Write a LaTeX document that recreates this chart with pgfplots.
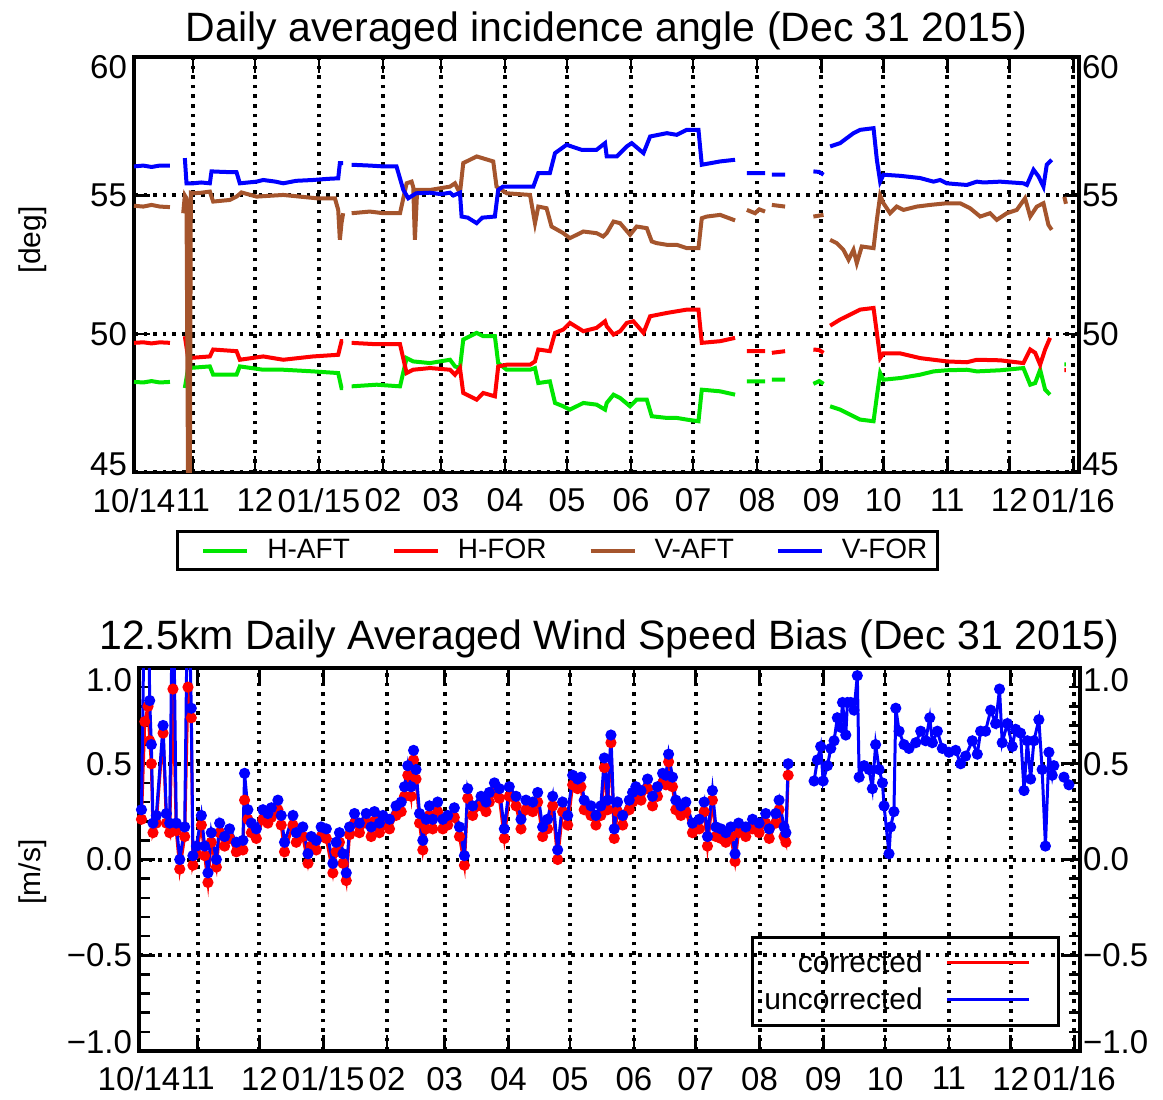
\documentclass[border=0pt]{standalone}
\usepackage{fontspec}
\setmainfont{Liberation Sans}
\usepackage{pgfplots}
\pgfplotsset{compat=1.18}
\definecolor{cgreen}{RGB}{0,230,0}
\definecolor{cred}{RGB}{255,0,0}
\definecolor{cbrown}{RGB}{165,85,45}
\definecolor{cblue}{RGB}{0,0,255}
\newcommand{\tl}[2]{\raisebox{#1}[0pt][0pt]{#2}}
\newcommand{\tickfont}{\fontsize{16.5}{16.5}\selectfont}
\pgfplotsset{
  common/.style={
    scale only axis,
    xmin=-28.5, xmax=428.7,
    axis line style={line width=1.6pt},
    every tick/.style={black, line width=1.3pt},
    major tick length=8pt, minor tick length=5.5pt,
    tick align=inside,
    xtick={-28.5,0,30,61,92,120,151,181,212,242,273,304,334,365,395,426},
    xticklabels={10/14,11,12,01/15,02,03,04,05,06,07,08,09,10,11,12,01/16},
    tick label style={font=\tickfont},
    x tick label style={yshift=-4.5pt},
    xmajorgrids, ymajorgrids,
    grid style={black, line width=2pt, dash pattern=on 1.8pt off 3pt},
    major grid style={black, line width=2pt, dash pattern=on 1.8pt off 3pt},
    unbounded coords=jump,
    title style={at={(0.5,1)}, anchor=base, font=\fontsize{20.5}{20.5}\selectfont},
    ylabel style={anchor=center, font=\fontsize{15}{15}\selectfont},
  },
  rightlab/.style={
    scale only axis, xmin=-28.5, xmax=428.7,
    axis line style={draw=none}, tick style={draw=none},
    xtick=\empty, yticklabel pos=right,
    tick label style={font=\tickfont}, yticklabel style={xshift=-2pt},
  },
}
\begin{document}
\begin{tikzpicture}
\path[use as bounding box] (0,0) rectangle (581.5pt,549.5pt);
% ---------------- top panel ----------------
\begin{axis}[common,
  at={(67pt,313.25pt)}, anchor=south west, width=472.5pt, height=207.75pt,
  ymin=45, ymax=60, ytick={45,50,55,60},
  yticklabels={\tl{-1.4pt}{45},50,55,\tl{-10.9pt}{60}},
  title={Daily averaged incidence angle (Dec 31 2015)},
  title style={yshift=1.5pt},
  ylabel={[deg]}, ylabel style={at={(axis description cs:-0.107,0.56)}},
  legend columns=4,
  legend style={at={(axis description cs:0.0444,-0.138)}, anchor=north west,
    draw=black, line width=1.5pt, fill=white, font=\fontsize{14}{14}\selectfont,
    inner xsep=2pt, inner ysep=2pt,
    nodes={inner xsep=3pt, inner ysep=2pt},
    /tikz/every odd column/.append style={column sep=6pt},
    /tikz/every even column/.append style={column sep=8pt}},
  legend image code/.code={\path (-10pt,0pt); \draw[#1, line width=2pt] (0pt,0pt) -- (22pt,0pt);},
]
\addplot[cgreen, line width=2pt] coordinates {
(-28.5,48.27) (-24,48.25) (-20,48.3) (-16,48.25) (-11.1,48.27) (-8,nan)
(-3.9,48.05) (-2.3,48.77) (8.2,48.83) (9.8,48.53) (21.1,48.53) (22.7,48.83) (34.0,48.71) (43.7,48.71) (58.2,48.65) (70.3,48.59) (71.9,48.05) (72.7,48.05) (74,nan)
(76.8,48.11) (88.9,48.17) (100.2,48.11) (103.4,49.13) (106.6,49.01) (114.7,48.95) (124.4,49.07) (126.8,48.83) (129.2,48.77) (130.8,49.80) (137.3,50.04) (140.5,49.92) (146.1,49.92) (147.7,48.95) (151.8,48.71) (163.1,48.71) (165.5,48.77) (167.1,48.23) (172.7,48.29) (175.2,47.51) (179.2,47.39) (182.4,47.27) (188.9,47.51) (195.3,47.45) (199.4,47.27) (200.2,47.51) (203.5,47.81) (206.7,47.69) (211.5,47.39) (214.7,47.63) (219.6,47.63) (222.0,47.03) (229.3,46.97) (234.1,46.97) (238.9,46.91) (244.6,46.85) (246.2,47.99) (255.1,47.93) (262.3,47.81) (265,nan)
(268.0,48.29) (276.8,48.29) (278,nan) (280.1,48.35) (286.5,48.35) (290,nan) (300.2,48.2) (303,48.3) (305.1,48.2) (306.5,nan)
(308.3,47.39) (313.1,47.27) (319.6,47.03) (322.8,46.91) (329.3,46.85) (330.9,47.75) (332.5,48.59) (334.1,48.35) (342.2,48.41) (351.8,48.53) (358.3,48.65) (364.7,48.69) (374.4,48.71) (379.3,48.65) (390.5,48.69) (401.8,48.77) (405.1,48.17) (407.5,48.23) (409.9,48.71) (412.3,47.99) (414.7,47.81) (418,nan)
(421.6,48.9) (422.4,48.9)
};
\addlegendentry{H-AFT}
\addplot[cred, line width=2pt] coordinates {
(-28.5,49.68) (-24,49.7) (-20,49.66) (-16,49.7) (-11.1,49.68) (-8,nan)
(-3.9,49.92) (-2.3,49.13) (8.2,49.19) (9.8,49.44) (21.1,49.38) (22.7,49.07) (34.0,49.19) (43.7,49.07) (58.2,49.19) (70.3,49.25) (71.9,49.74) (72.7,49.74) (74,nan)
(76.8,49.68) (88.9,49.63) (100.2,49.63) (103.4,48.59) (106.6,48.71) (114.7,48.77) (124.4,48.71) (126.8,48.53) (129.2,48.77) (130.8,47.87) (137.3,47.63) (140.5,47.87) (146.1,47.75) (147.7,48.83) (151.8,48.89) (163.1,48.89) (165.5,49.01) (167.1,49.44) (172.7,49.38) (175.2,50.04) (179.2,50.16) (182.4,50.40) (188.9,50.10) (195.3,50.22) (199.4,50.46) (200.2,50.28) (203.5,49.98) (206.7,50.10) (209.9,50.40) (213.1,50.46) (218.0,50.04) (221.2,50.64) (229.3,50.76) (234.1,50.82) (238.9,50.88) (244.6,50.88) (246.2,49.68) (255.1,49.74) (262.3,49.86) (265,nan)
(268.0,49.38) (276.8,49.38) (278,nan) (280.1,49.32) (286.5,49.38) (290,nan) (300.2,49.44) (303,49.42) (305.1,49.32) (306.5,nan)
(308.3,50.30) (313.1,50.52) (319.6,50.76) (322.8,50.88) (329.3,50.94) (330.9,50.04) (332.5,49.13) (334.1,49.30) (342.2,49.30) (351.8,49.13) (358.3,49.07) (364.7,49.01) (374.4,48.98) (379.3,49.07) (390.5,49.05) (401.8,48.95) (405.1,49.44) (407.5,49.32) (409.9,48.89) (412.3,49.44) (414.7,49.86) (418,nan)
(421.6,48.7) (422.4,48.7)
};
\addlegendentry{H-FOR}
\addplot[cbrown, line width=2pt] coordinates {
(-28.5,54.63) (-24,54.6) (-20,54.66) (-16,54.6) (-11.1,54.58) (-8,nan)
(-4.7,54.36) (-3.9,55.0) (-3.1,54.9) (-2.3,44.0) (-1.5,44.0) (-1.0,55.1) (0.2,55.08) (4,55.1) (8.2,55.14) (9.8,54.78) (17.9,54.84) (21.1,54.96) (23.5,55.11) (30.8,54.96) (43.7,55.02) (59.8,54.90) (68.7,54.90) (70.3,54.48) (71.1,53.4) (71.9,54.0) (72.7,54.36) (74,nan)
(76.8,54.36) (85.6,54.42) (92.1,54.36) (100.2,54.36) (103.4,55.44) (105.8,55.5) (106.6,55.3) (107.4,53.4) (108.5,55.2) (114.7,55.2) (124.4,55.32) (126.8,55.44) (129.2,55.08) (130.8,56.17) (137.3,56.41) (145.3,56.23) (146.9,55.32) (151.8,55.08) (163.1,55.02) (165.5,54.0) (167.1,54.6) (171.1,54.54) (173.5,53.88) (179.2,53.64) (182.4,53.46) (188.9,53.7) (195.3,53.64) (198.5,53.52) (200.2,53.64) (203.5,54.06) (206.7,54.0) (211.5,53.58) (214.7,53.88) (219.6,53.82) (222.0,53.34) (224.4,53.28) (229.3,53.22) (234.1,53.22) (238.9,53.10) (244.6,53.10) (246.2,54.18) (248.6,54.24) (255.1,54.30) (262.3,54.10) (265,nan)
(268.0,54.48) (272,54.36) (274,54.5) (276.8,54.42) (278,nan) (280.1,54.66) (286.5,54.6) (290,nan) (300.2,54.24) (305.1,54.3) (306.5,nan)
(308.3,53.40) (311.5,53.28) (314.7,53.04) (317.2,52.68) (319.6,53.04) (321.2,52.56) (323.6,53.16) (329.3,53.10) (330.9,54.12) (332.5,55.0) (334.1,54.72) (337.3,54.36) (340.5,54.60) (343.8,54.48) (350.2,54.60) (356.7,54.66) (364.7,54.72) (371.2,54.72) (376.0,54.54) (380.9,54.24) (385.7,54.36) (388.9,54.12) (393.8,54.36) (398.6,54.48) (402.6,54.90) (405.1,54.24) (408.3,54.60) (411.5,54.72) (413.9,53.94) (415.5,53.76) (418,nan)
(421.6,54.95) (422.4,54.7)
};
\addlegendentry{V-AFT}
\addplot[cblue, line width=2pt] coordinates {
(-28.5,56.05) (-24,56.08) (-20,56.03) (-16,56.08) (-11.1,56.08) (-8,nan)
(-3.9,56.35) (-3.1,55.44) (0.2,55.44) (4,55.47) (8.2,55.44) (9.0,55.87) (15,55.85) (21.1,55.84) (22.7,55.44) (30.8,55.5) (34.0,55.56) (40,55.50) (43.7,55.44) (50,55.53) (58.2,55.56) (65,55.6) (70.3,55.62) (71.1,56.17) (72.7,56.17) (74,nan)
(76.8,56.11) (85.6,56.08) (92.1,56.05) (98.5,56.05) (101.8,55.2) (104.2,54.9) (108,55.08) (114.7,55.1) (120,55.05) (124.4,55.1) (126,55.0) (129.2,55.1) (130.0,54.24) (133,54.2) (137.3,54.0) (140,54.2) (146.1,54.24) (147.7,55.2) (150,55.32) (164.7,55.32) (167.1,55.81) (172.7,55.81) (175.2,56.53) (180.8,56.83) (188,56.65) (195.3,56.65) (199.4,56.89) (200.2,56.41) (205.1,56.41) (209.9,56.77) (212.3,56.89) (218.0,56.53) (221.2,57.13) (229.3,57.25) (234.1,57.19) (238.9,57.37) (244.6,57.37) (246.2,56.11) (255.1,56.23) (262.3,56.29) (265,nan)
(268.0,55.81) (276.8,55.81) (278,nan) (280.1,55.75) (286.5,55.75) (290,nan) (300.2,55.87) (303,55.85) (305.1,55.75) (306.5,nan)
(308.3,56.77) (313.1,56.89) (319.6,57.25) (322.8,57.37) (329.3,57.43) (330.9,56.29) (332.5,55.50) (334.1,55.75) (342.2,55.71) (351.8,55.63) (358.3,55.5) (361.5,55.56) (364.7,55.44) (374.4,55.38) (379.3,55.5) (382.5,55.47) (390.5,55.5) (401.8,55.44) (403.5,55.38) (406.7,55.93) (409.1,55.69) (411.5,55.32) (413.1,56.11) (415.5,56.29)
};
\addlegendentry{V-FOR}
\end{axis}
\begin{axis}[rightlab, at={(67pt,313.25pt)}, anchor=south west, width=472.5pt, height=207.75pt,
  ymin=45, ymax=60, ytick={45,50,55,60},
  yticklabels={\tl{-1.4pt}{45},50,55,\tl{-10.9pt}{60}}]
\end{axis}
% ---------------- bottom panel ----------------
\begin{axis}[common,
  at={(69.5pt,24pt)}, anchor=south west, width=470.5pt, height=191.5pt,
  ymin=-1, ymax=1, ytick={-1,-0.5,0,0.5,1}, minor y tick num=4,
  yticklabels={\tl{-1.4pt}{−1.0},−0.5,0.0,0.5,\tl{-11.9pt}{1.0}},
  title={12.5km Daily Averaged Wind Speed Bias (Dec 31 2015)},
  title style={yshift=3.5pt},
  ylabel={[m/s]}, ylabel style={at={(axis description cs:-0.113,0.467)}},
  legend cell align=right, legend plot pos=right,
  legend style={at={(axis description cs:0.9787,0.3003)}, anchor=north east,
    draw=black, line width=1.5pt, fill=none, font=\fontsize{15}{15}\selectfont,
    inner xsep=1pt, inner ysep=4.9pt, row sep=3.3pt,
    nodes={inner xsep=5pt, inner ysep=1.5pt},
    /tikz/every odd column/.append style={column sep=6.3pt}},
  legend image code/.code={\draw[#1, line width=1.5pt] (0pt,0pt) -- (41pt,0pt); \path (54pt,0pt);},
]
\addplot[cred, line width=1.5pt, mark=*, mark size=2pt, mark options={solid, fill=cred}] coordinates {
(-27.3,0.21) (-25.7,0.72) (-24.1,0.80) (-23.3,0.62) (-22.5,0.50) (-21.7,0.14) (-20.1,0.19) (-16.8,0.66) (-15.2,0.19) (-13.6,0.14) (-12.0,0.89) (-10.4,0.15) (-8.7,-0.05) (-6.3,0.12) (-4.7,0.90) (-3.1,0.74) (-2.3,-0.03) (-0.6,0.03) (1.8,0.18) (3.4,0.02) (5.0,-0.12) (6.6,0.09) (9.1,-0.04) (10.7,0.14) (13.1,0.07) (15.5,0.11) (18.8,0.04) (22.0,0.05) (22.8,0.31) (24.4,0.21) (26.1,0.14) (28.5,0.11) (31.7,0.21) (34.1,0.19) (35.8,0.22) (39.0,0.26) (40.6,0.18) (42.2,0.04) (46.3,0.18) (47.9,0.09) (51.1,0.12) (53.6,-0.02) (55.2,0.07) (57.6,0.05) (60.0,0.12) (62.5,0.11) (65.7,-0.07) (67.3,0.04) (68.9,0.09) (70.6,-0.02) (72.2,-0.11) (73.8,0.13) (76.2,0.19) (78.6,0.14) (81.9,0.19) (84.3,0.12) (85.9,0.20) (88.3,0.14) (90.0,0.18) (93.2,0.16) (96.4,0.23) (98.9,0.25) (100.5,0.33) (102.1,0.44) (103.7,0.33) (104.9,0.52) (106.1,0.42) (107.8,0.19) (109.4,0.05) (111.0,0.16) (112.6,0.23) (114.2,0.16) (116.6,0.25) (119.1,0.16) (121.5,0.18) (124.7,0.22) (127.2,0.12) (129.6,-0.03) (131.2,0.32) (133.6,0.23) (137.7,0.28) (140.1,0.25) (141.7,0.30) (144.2,0.35) (146.6,0.32) (149.0,0.11) (151.4,0.33) (154.7,0.28) (157.1,0.16) (159.5,0.26) (162.8,0.25) (165.2,0.30) (167.6,0.12) (170.0,0.16) (172.5,0.28) (174.9,0.00) (177.3,0.25) (179.8,0.18) (182.2,0.39) (184.6,0.37) (186.2,0.38) (187.8,0.26) (191.1,0.23) (193.5,0.18) (195.9,0.23) (197.6,0.48) (199.2,0.26) (200.8,0.61) (202.4,0.11) (204.0,0.25) (206.5,0.18) (209.7,0.26) (211.3,0.30) (212.9,0.33) (215.4,0.31) (218.6,0.37) (221.0,0.28) (223.4,0.33) (225.9,0.40) (227.5,0.39) (228.8,0.51) (230.7,0.38) (232.3,0.26) (234.8,0.23) (237.2,0.25) (240.4,0.14) (243.7,0.16) (246.1,0.25) (247.7,0.07) (250.1,0.31) (251.8,0.12) (254.2,0.11) (256.6,0.09) (259.0,0.12) (261.1,-0.01) (262.8,0.14) (266.3,0.12) (269.6,0.16) (272.8,0.14) (276.0,0.19) (277.7,0.11) (280.9,0.19) (282.5,0.26) (284.9,0.12) (285.8,0.09) (286.9,0.44)
};
\addlegendentry{corrected}
\addplot[cblue, line width=1.5pt, mark=*, mark size=2pt, mark options={solid, fill=cblue}] coordinates {
(-27.3,0.26) (-25.7,1.50) (-24.1,1.50) (-23.3,0.83) (-22.5,0.60) (-21.7,0.19) (-20.1,0.23) (-16.8,0.70) (-15.2,0.24) (-13.6,0.19) (-12.0,1.60) (-10.4,0.19) (-8.7,0.00) (-6.3,0.17) (-4.7,1.60) (-3.1,0.79) (-2.3,0.02) (-0.6,0.07) (1.8,0.23) (3.4,0.07) (5.0,-0.07) (6.6,0.14) (9.1,0.00) (10.7,0.19) (13.1,0.12) (15.5,0.16) (18.8,0.09) (22.0,0.10) (22.8,0.45) (24.4,0.26) (26.1,0.19) (28.5,0.16) (31.7,0.26) (34.1,0.24) (35.8,0.27) (39.0,0.31) (40.6,0.23) (42.2,0.09) (46.3,0.23) (47.9,0.14) (51.1,0.17) (53.6,0.03) (55.2,0.12) (57.6,0.10) (60.0,0.17) (62.5,0.16) (65.7,-0.02) (67.3,0.09) (68.9,0.14) (70.6,0.03) (72.2,-0.07) (73.8,0.17) (76.2,0.24) (78.6,0.19) (81.9,0.24) (84.3,0.17) (85.9,0.25) (88.3,0.19) (90.0,0.23) (93.2,0.21) (96.4,0.28) (98.9,0.30) (100.5,0.38) (102.1,0.49) (103.7,0.38) (104.9,0.57) (106.1,0.47) (107.8,0.24) (109.4,0.10) (111.0,0.21) (112.6,0.28) (114.2,0.21) (116.6,0.30) (119.1,0.21) (121.5,0.23) (124.7,0.27) (127.2,0.17) (129.6,0.02) (131.2,0.37) (133.6,0.28) (137.7,0.33) (140.1,0.30) (141.7,0.35) (144.2,0.40) (146.6,0.37) (149.0,0.16) (151.4,0.38) (154.7,0.33) (157.1,0.21) (159.5,0.31) (162.8,0.30) (165.2,0.35) (167.6,0.17) (170.0,0.21) (172.5,0.33) (174.9,0.05) (177.3,0.30) (179.8,0.23) (182.2,0.44) (184.6,0.42) (186.2,0.43) (187.8,0.31) (191.1,0.28) (193.5,0.23) (195.9,0.28) (197.6,0.53) (199.2,0.31) (200.8,0.65) (202.4,0.16) (204.0,0.30) (206.5,0.23) (209.7,0.31) (211.3,0.35) (212.9,0.38) (215.4,0.36) (218.6,0.42) (221.0,0.33) (223.4,0.38) (225.9,0.45) (227.5,0.44) (228.8,0.55) (230.7,0.43) (232.3,0.31) (234.8,0.28) (237.2,0.30) (240.4,0.19) (243.7,0.21) (246.1,0.30) (247.7,0.12) (250.1,0.36) (251.8,0.17) (254.2,0.16) (256.6,0.14) (259.0,0.17) (261.1,0.03) (262.8,0.19) (266.3,0.17) (269.6,0.21) (272.8,0.19) (276.0,0.24) (277.7,0.16) (280.9,0.24) (282.5,0.31) (284.9,0.17) (285.8,0.14) (286.9,0.50) (293,nan)
(299.5,0.41) (301.1,0.52) (302.7,0.59) (303.9,0.41) (306.0,0.49) (307.6,0.58) (309.2,0.62) (310.8,0.74) (312.5,0.69) (313.3,0.82) (314.9,0.65) (315.7,0.82) (317.3,0.82) (318.9,0.78) (320.5,0.96) (321.4,0.43) (323.8,0.49) (326.2,0.47) (327.8,0.37) (329.4,0.60) (331.1,0.47) (332.7,0.40) (333.5,0.28) (335.9,0.03) (336.7,0.17) (338.3,0.25) (339.2,0.79) (340.8,0.67) (343.2,0.60) (345.6,0.58) (348.9,0.61) (351.3,0.67) (353.7,0.62) (355.7,0.74) (357.0,0.61) (359.4,0.67) (361.8,0.58) (365.0,0.56) (368.3,0.57) (370.7,0.50) (373.1,0.54) (376.4,0.62) (378.8,0.55) (380.4,0.67) (382.8,0.67) (385.3,0.78) (387.7,0.71) (389.6,0.89) (390.9,0.61) (393.4,0.71) (395.8,0.59) (397.4,0.68) (399.8,0.66) (401.5,0.36) (403.1,0.62) (404.7,0.42) (406.3,0.62) (408.7,0.73) (410.3,0.47) (411.9,0.07) (413.6,0.56) (415.2,0.44) (416.0,0.49) (418.5,nan)
(420.9,0.43) (423.3,0.39)
};
\addlegendentry{uncorrected}
\end{axis}
\begin{axis}[rightlab, at={(69.5pt,24pt)}, anchor=south west, width=470.5pt, height=191.5pt,
  ymin=-1, ymax=1, ytick={-1,-0.5,0,0.5,1},
  yticklabels={\tl{-1.4pt}{−1.0},−0.5,0.0,0.5,\tl{-11.9pt}{1.0}}]
\end{axis}
\end{tikzpicture}
\end{document}
